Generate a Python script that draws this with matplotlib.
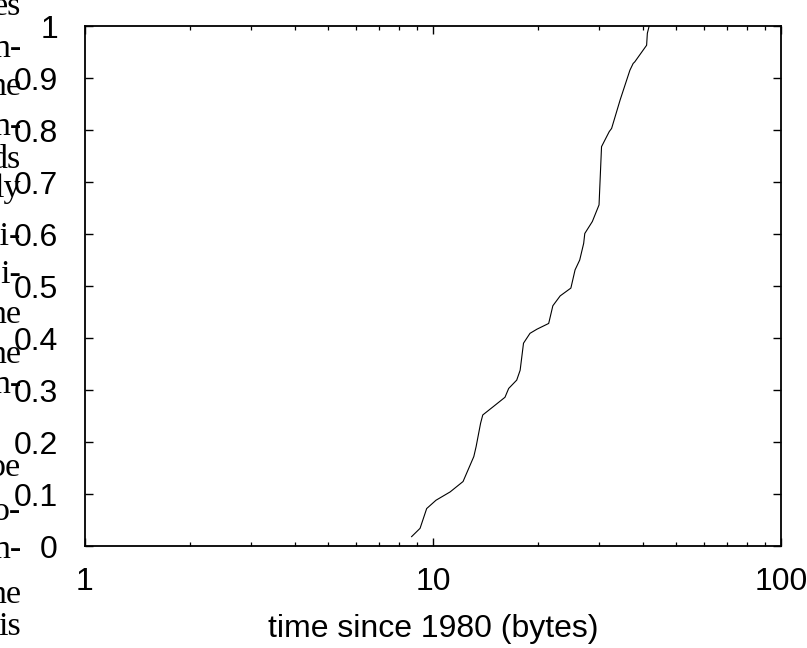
import matplotlib
matplotlib.use("Agg")
import matplotlib.pyplot as plt
from matplotlib.ticker import LogLocator, FixedLocator, NullFormatter, FuncFormatter

# CDF data
x_vals = [8.68, 9.18, 9.59, 10.2, 11.2, 12.2, 13.1, 13.3, 13.7, 13.9, 14.9, 16.1,
          16.5, 17.4, 17.8, 18.2, 19.0, 19.9, 21.5, 22.1, 23.2, 24.9, 25.6, 26.4,
          27.1, 27.3, 28.7, 30.0, 30.5, 32.1, 32.6, 34.5, 36.8, 37.6, 38.0, 41.1,
          41.3, 41.8]
y_vals = [0.018, 0.034, 0.072, 0.088, 0.104, 0.124, 0.172, 0.191, 0.236, 0.252, 0.268, 0.286,
          0.303, 0.319, 0.338, 0.390, 0.409, 0.417, 0.428, 0.462, 0.481, 0.496, 0.531, 0.550,
          0.582, 0.601, 0.624, 0.656, 0.768, 0.797, 0.803, 0.858, 0.915, 0.928, 0.931, 0.963,
          0.986, 1.0]

y_ticks = [0, 0.1, 0.2, 0.3, 0.4, 0.5, 0.6, 0.7, 0.8, 0.9, 1]
x_ticks = [1, 10, 100]
x_label = "time since 1980 (bytes)"

# fragments of the surrounding paper text (clipped at left edge)
side_text = ["es", "n-", "ne", "n-", "ds", "ly", "li-", "i-", "ne", "ne", "n-",
             "pe", "o-", "n-", "ne", "is"]
side_baselines = [15, 57, 95, 135, 168, 197, 245, 283, 323, 363, 393, 476, 520, 558, 603, 635]

W, H = 807, 648
fig = plt.figure(figsize=(W / 100, H / 100), dpi=100)
L, R, T, B = 85, 781, 26, 546
ax = fig.add_axes([L / W, 1 - B / H, (R - L) / W, (B - T) / H])

ax.plot(x_vals, y_vals, color="black", lw=0.8)

ax.set_xscale("log")
ax.set_xlim(1, 100)
ax.set_ylim(0, 1)
ax.xaxis.set_major_locator(FixedLocator(x_ticks))
ax.xaxis.set_major_formatter(FuncFormatter(lambda v, p: "%g" % v))
ax.xaxis.set_minor_locator(LogLocator(base=10, subs=range(2, 10)))
ax.xaxis.set_minor_formatter(NullFormatter())
ax.yaxis.set_major_locator(FixedLocator(y_ticks))
ax.yaxis.set_major_formatter(FuncFormatter(lambda v, p: "%g" % v))

sans = ["Liberation Sans", "DejaVu Sans"]
ax.tick_params(axis="both", which="major", direction="in", length=6, width=1.0,
               top=True, right=True, labelsize=23)
ax.tick_params(axis="x", which="minor", direction="in", length=3.2, width=0.9,
               top=True, bottom=True)
ax.tick_params(axis="y", which="major", pad=19.5)
ax.tick_params(axis="x", which="major", pad=15)
for lab in ax.get_xticklabels() + ax.get_yticklabels():
    lab.set_fontfamily(sans)
for s in ax.spines.values():
    s.set_linewidth(1.3)

ax.set_xlabel(x_label, fontsize=23, family=sans, labelpad=12)

for txt, yb in zip(side_text, side_baselines):
    fig.text(21 / W, 1 - yb / H, txt, ha="right", va="baseline",
             fontsize=24.5, family=["Liberation Serif", "DejaVu Serif"])

fig.savefig("out.png", dpi=100)
